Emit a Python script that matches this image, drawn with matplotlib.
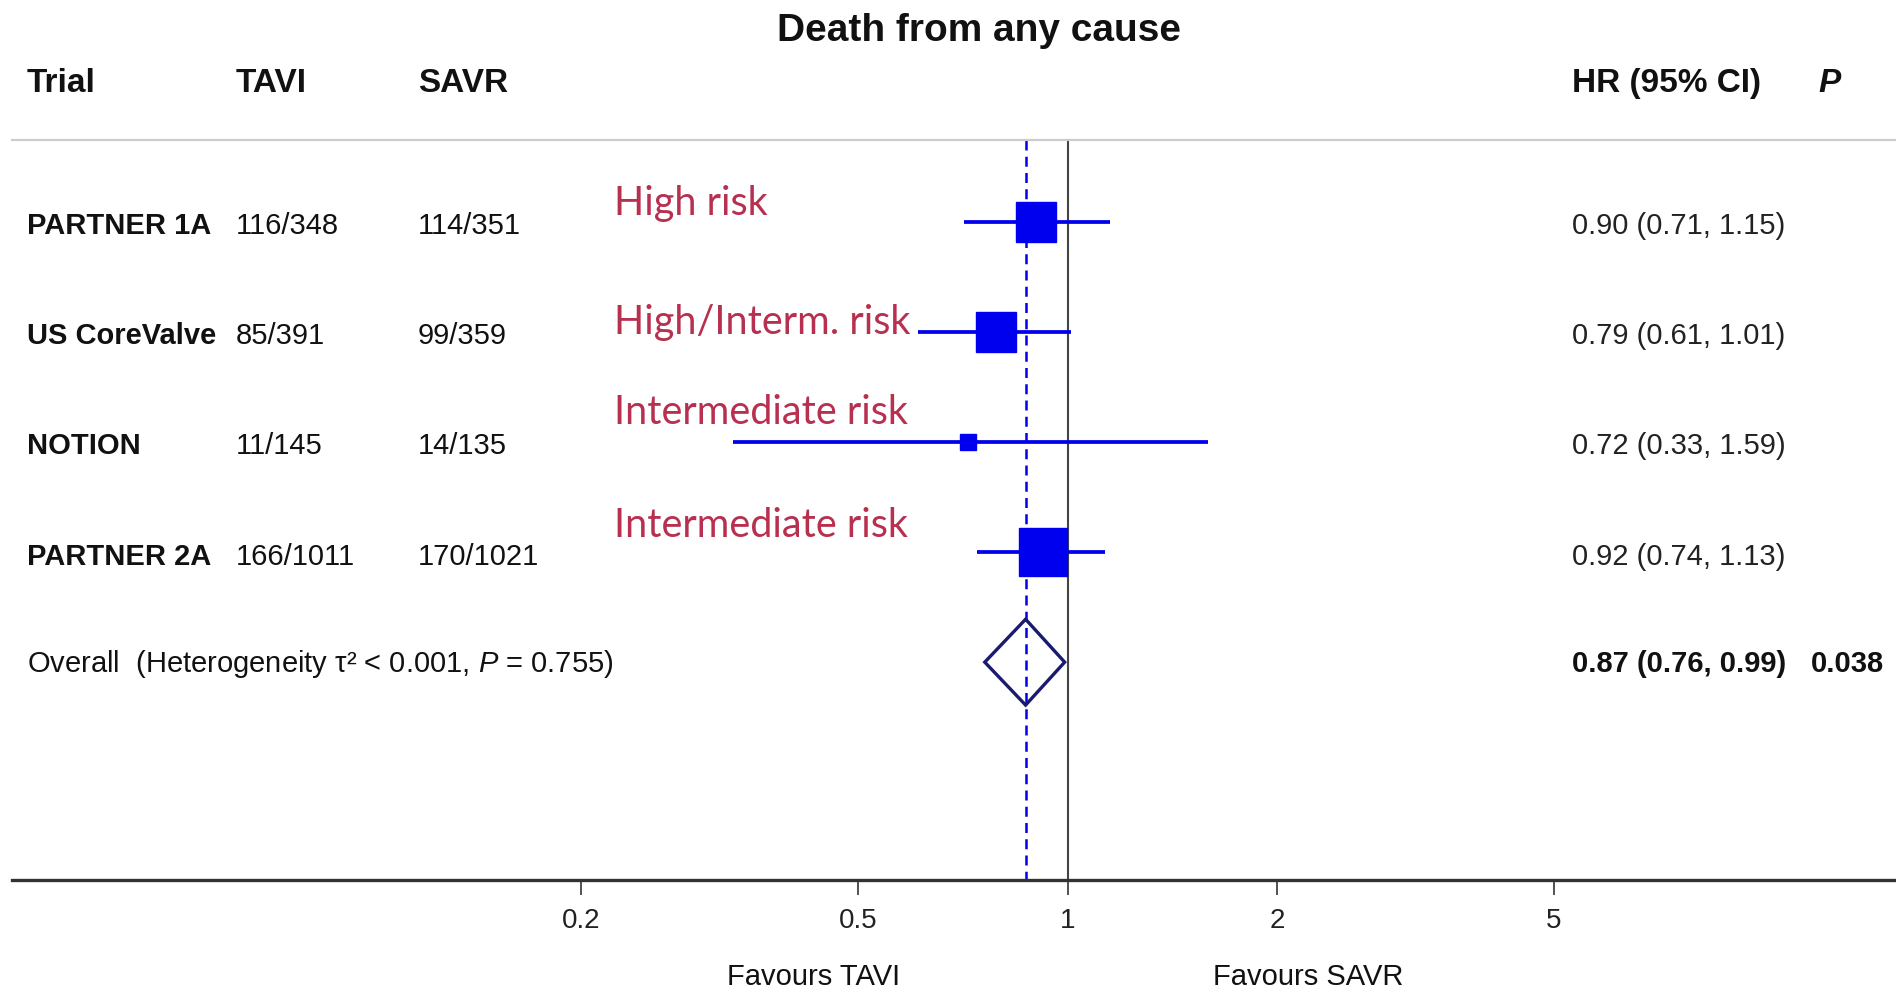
import matplotlib
matplotlib.use("Agg")
import matplotlib.pyplot as plt
from matplotlib.transforms import blended_transform_factory
from matplotlib.patches import Polygon

plt.rcParams['font.family'] = ['Liberation Sans', 'DejaVu Sans']
plt.rcParams['mathtext.fontset'] = 'custom'
plt.rcParams['mathtext.rm'] = 'Liberation Sans'
plt.rcParams['mathtext.it'] = 'Liberation Sans:italic'
plt.rcParams['mathtext.bf'] = 'Liberation Sans:bold'

# ---------------- data ----------------
trials = ["PARTNER 1A", "US CoreValve", "NOTION", "PARTNER 2A"]
tavi = ["116/348", "85/391", "11/145", "166/1011"]
savr = ["114/351", "99/359", "14/135", "170/1021"]
hr = [0.90, 0.79, 0.72, 0.92]
lo = [0.71, 0.61, 0.33, 0.74]
hi = [1.15, 1.01, 1.59, 1.13]
risk = ["High risk", "High/Interm. risk", "Intermediate risk", "Intermediate risk"]
overall_hr, overall_lo, overall_hi = 0.87, 0.76, 0.99
overall_p = "0.038"
overall_label = r"Overall  (Heterogeneity τ² < 0.001, $\it{P}$ = 0.755)"
xticks = [0.2, 0.5, 1, 2, 5]
xticklabels = ["0.2", "0.5", "1", "2", "5"]

# ---------------- style ----------------
W, H = 1896, 993
fig = plt.figure(figsize=(W / 100, H / 100), dpi=100)
ax = fig.add_axes([12 / W, 1 - 880 / H, 1 - 12 / W, 880 / H])
ax.set_xscale('log')
ax.set_xlim(0.0304, 15.5)
ax.set_ylim(6.98, -1.018)
for s in ['top', 'right', 'left']:
    ax.spines[s].set_visible(False)
ax.spines['bottom'].set_linewidth(2.4)
ax.spines['bottom'].set_color('#333333')
ax.set_yticks([])
ax.set_xticks(xticks)
ax.set_xticklabels(xticklabels)
ax.minorticks_off()
ax.tick_params(axis='x', direction='out', length=11, width=1.2, color='#333333',
               labelsize=20, pad=9, labelcolor='#222222')

blue = '#0000ee'
rows = list(range(1, len(trials) + 1))
sizes = [29.5, 29.5, 11, 34]
ymax_line = 0.255

# reference lines
ax.plot([1, 1], [ymax_line, 6.98], color='#444444', lw=1.5, zorder=1)
ax.plot([overall_hr, overall_hr], [ymax_line, 6.98], color=blue, lw=1.8,
        dashes=(4, 2.5), zorder=2)

# trials
for y, h, l, u, ms in zip(rows, hr, lo, hi, sizes):
    ax.plot([l, u], [y, y], color=blue, lw=2.7, zorder=3, solid_capstyle='butt')
    ax.plot([h], [y], marker='s', markersize=ms, color=blue, zorder=4, mec=blue)

# overall diamond
yo = len(trials) + 1
dh = 0.39
diamond = Polygon([(overall_lo, yo), (overall_hr, yo - dh), (overall_hi, yo),
                   (overall_hr, yo + dh)], closed=True, fill=False,
                  edgecolor='#1a1a6e', lw=2.4, zorder=5)
ax.add_patch(diamond)

# header line
ax.plot([0.0304, 15.5], [ymax_line, ymax_line], color='#cccccc', lw=1.6,
        clip_on=False)

tr = blended_transform_factory(fig.transFigure, ax.transData)

def fx(px):
    return px / W

txtc = '#111111'
# title
ax.text(fx(979), -0.74, "Death from any cause", transform=tr, ha='center',
        va='center', fontsize=28, fontweight='bold', color=txtc, clip_on=False)
# headers
hy = -0.26
ax.text(fx(27), hy, "Trial", transform=tr, va='center', fontsize=24,
        fontweight='bold', color=txtc)
ax.text(fx(236), hy, "TAVI", transform=tr, va='center', fontsize=24,
        fontweight='bold', color=txtc)
ax.text(fx(418), hy, "SAVR", transform=tr, va='center', fontsize=24,
        fontweight='bold', color=txtc)
ax.text(fx(1572), hy, "HR (95% CI)", transform=tr, va='center', fontsize=24,
        fontweight='bold', color=txtc)
ax.text(fx(1818), hy, "P", transform=tr, va='center', fontsize=24,
        fontweight='bold', fontstyle='italic', color=txtc)

# rows
for y, t, a, b, h, l, u in zip(rows, trials, tavi, savr, hr, lo, hi):
    yt = y + 0.04
    ax.text(fx(27), yt, t, transform=tr, va='center', fontsize=21,
            fontweight='bold', color=txtc)
    ax.text(fx(236), yt, a, transform=tr, va='center', fontsize=21, color=txtc)
    ax.text(fx(418), yt, b, transform=tr, va='center', fontsize=21, color=txtc)
    ax.text(fx(1572), yt, f"{h:.2f} ({l:.2f}, {u:.2f})", transform=tr,
            va='center', fontsize=21, color='#222222')

# overall row
ax.text(fx(27), yo + 0.02, overall_label, transform=tr, va='center',
        fontsize=21, color=txtc)
ax.text(fx(1572), yo + 0.02,
        f"{overall_hr:.2f} ({overall_lo:.2f}, {overall_hi:.2f})",
        transform=tr, va='center', fontsize=21, fontweight='bold', color=txtc)
ax.text(fx(1811), yo + 0.02, overall_p, transform=tr, va='center', fontsize=21,
        fontweight='bold', color=txtc)

# risk annotations
risk_y = [0.83, 1.91, 2.73, 3.76]
for ry, r in zip(risk_y, risk):
    ax.text(fx(614), ry, r, transform=tr, va='center', fontsize=28.5,
            family=['Lato', 'DejaVu Sans'], color='#b8304f')

# favours labels
ax.text(fx(814), 7.86, "Favours TAVI", transform=tr, ha='center', va='center',
        fontsize=21, color=txtc, clip_on=False)
ax.text(fx(1308), 7.86, "Favours SAVR", transform=tr, ha='center', va='center',
        fontsize=21, color=txtc, clip_on=False)

fig.savefig("out.png", dpi=100, facecolor='white')
